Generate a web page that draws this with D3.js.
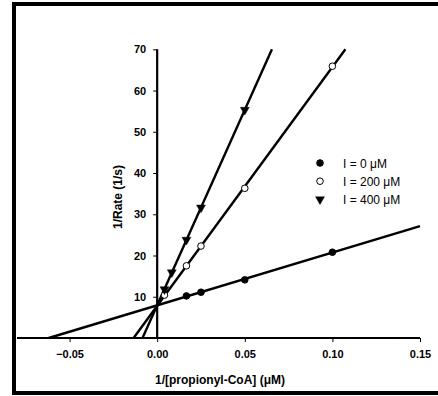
<!DOCTYPE html>
<html>
<head>
<meta charset="utf-8">
<script src="https://cdn.jsdelivr.net/npm/d3@7"></script>
<style>
  html, body { margin: 0; padding: 0; background: #fff; }
  svg { display: block; }
</style>
</head>
<body>
<svg id="chart" width="438" height="396"></svg>
<script>
// Lineweaver-Burk data: 1/[propionyl-CoA] (µM^-1) vs 1/Rate (1/s)
const seriesNames = ["I = 0 \u03bcM", "I = 200 \u03bcM", "I = 400 \u03bcM"];
const x0 = [0.0167, 0.025, 0.05, 0.1];
const y0 = [10.2, 11.1, 14.1, 20.8];
const x200 = [0.00417, 0.0167, 0.025, 0.05, 0.1];
const y200 = [10.4, 17.5, 22.3, 36.3, 65.9];
const x400 = [0.00417, 0.00833, 0.0167, 0.025, 0.05];
const y400 = [11.8, 15.9, 23.8, 31.6, 55.3];
const xTicks = [-0.05, 0.00, 0.05, 0.10, 0.15];
const yTicks = [10, 20, 30, 40, 50, 60, 70];
const xDomain = [-0.08, 0.15];
const yDomain = [0, 70];

const series = [
  { name: seriesNames[0], xs: x0, ys: y0, symbol: "filled" },
  { name: seriesNames[1], xs: x200, ys: y200, symbol: "open" },
  { name: seriesNames[2], xs: x400, ys: y400, symbol: "triangle" }
];

const svg = d3.select("#chart");
const font = "'Liberation Sans', Arial, Helvetica, sans-serif";

// Outer frame (right edge runs off the page)
svg.append("rect")
  .attr("x", 14).attr("y", 4)
  .attr("width", 440).attr("height", 389)
  .attr("fill", "none").attr("stroke", "#000").attr("stroke-width", 4);

const x = d3.scaleLinear().domain(xDomain).range([17, 420]);
const y = d3.scaleLinear().domain(yDomain).range([338, 49.3]);

const plot = svg.append("g");

// Least-squares fit for each series
function fit(xs, ys) {
  const n = xs.length;
  const mx = d3.mean(xs), my = d3.mean(ys);
  let sxx = 0, sxy = 0;
  for (let i = 0; i < n; i++) {
    sxx += (xs[i] - mx) * (xs[i] - mx);
    sxy += (xs[i] - mx) * (ys[i] - my);
  }
  const slope = sxy / sxx;
  return { slope, intercept: my - slope * mx };
}

const line = d3.line().x(d => x(d[0])).y(d => y(d[1]));

series.forEach(s => {
  const f = fit(s.xs, s.ys);
  const xStart = -f.intercept / f.slope;            // where the line meets y = 0
  const xEnd = Math.min(xDomain[1], (yDomain[1] - f.intercept) / f.slope);
  plot.append("path")
    .attr("d", line([[xStart, 0], [xEnd, f.intercept + f.slope * xEnd]]))
    .attr("fill", "none").attr("stroke", "#000").attr("stroke-width", 2.4);
});

// Axes crossing at the origin
const xAxis = d3.axisBottom(x).tickValues(xTicks).tickSize(4).tickFormat(d3.format(".2f"));
const yAxis = d3.axisLeft(y).tickValues(yTicks).tickSize(4).tickFormat(d3.format("d"));

const gx = svg.append("g").attr("transform", `translate(0,${y(0)})`).call(xAxis);
gx.select(".domain").attr("d", `M${x(xDomain[0])},0H${x(xDomain[1])}`).attr("stroke-width", 2.2);
gx.selectAll(".tick line").attr("stroke-width", 1);
gx.selectAll(".tick text")
  .attr("y", 12)
  .attr("font-family", font).attr("font-weight", "bold").attr("font-size", 11);

const gy = svg.append("g").attr("transform", `translate(${x(0)},0)`).call(yAxis);
gy.select(".domain").attr("d", `M0,${y(yDomain[1])}V${y(0)}`).attr("stroke-width", 2.2);
gy.selectAll(".tick line").attr("stroke-width", 1);
gy.selectAll(".tick text")
  .attr("x", -11)
  .attr("font-family", font).attr("font-weight", "bold").attr("font-size", 11);

// Markers
function drawMarker(g, sym, cx, cy) {
  if (sym === "triangle") {
    const t = d3.symbol().type(d3.symbolTriangle).size(34);
    g.append("path").attr("d", t())
      .attr("transform", `translate(${cx},${cy}) rotate(180)`)
      .attr("fill", "#000").attr("stroke", "#000").attr("stroke-width", 0.5);
  } else {
    g.append("circle").attr("cx", cx).attr("cy", cy).attr("r", 3.3)
      .attr("fill", sym === "filled" ? "#000" : "#fff")
      .attr("stroke", "#000").attr("stroke-width", 1);
  }
}

series.forEach(s => {
  s.xs.forEach((xv, i) => drawMarker(plot, s.symbol, x(xv), y(s.ys[i])));
});

// Legend
const legend = svg.append("g");
series.forEach((s, i) => {
  const ly = 163 + i * 18.2;
  drawMarker(legend, s.symbol, 320, ly);
  legend.append("text")
    .attr("x", 343).attr("y", ly + 4.5)
    .attr("font-family", font).attr("font-size", 12)
    .text(s.name);
});

// Axis titles
svg.append("text")
  .attr("x", 220).attr("y", 384)
  .attr("text-anchor", "middle")
  .attr("font-family", font).attr("font-weight", "bold").attr("font-size", 12)
  .text("1/[propionyl-CoA] (\u03bcM)");

svg.append("text")
  .attr("transform", "translate(122,197) rotate(-90)")
  .attr("text-anchor", "middle")
  .attr("font-family", font).attr("font-weight", "bold").attr("font-size", 12)
  .text("1/Rate (1/s)");
</script>
</body>
</html>
